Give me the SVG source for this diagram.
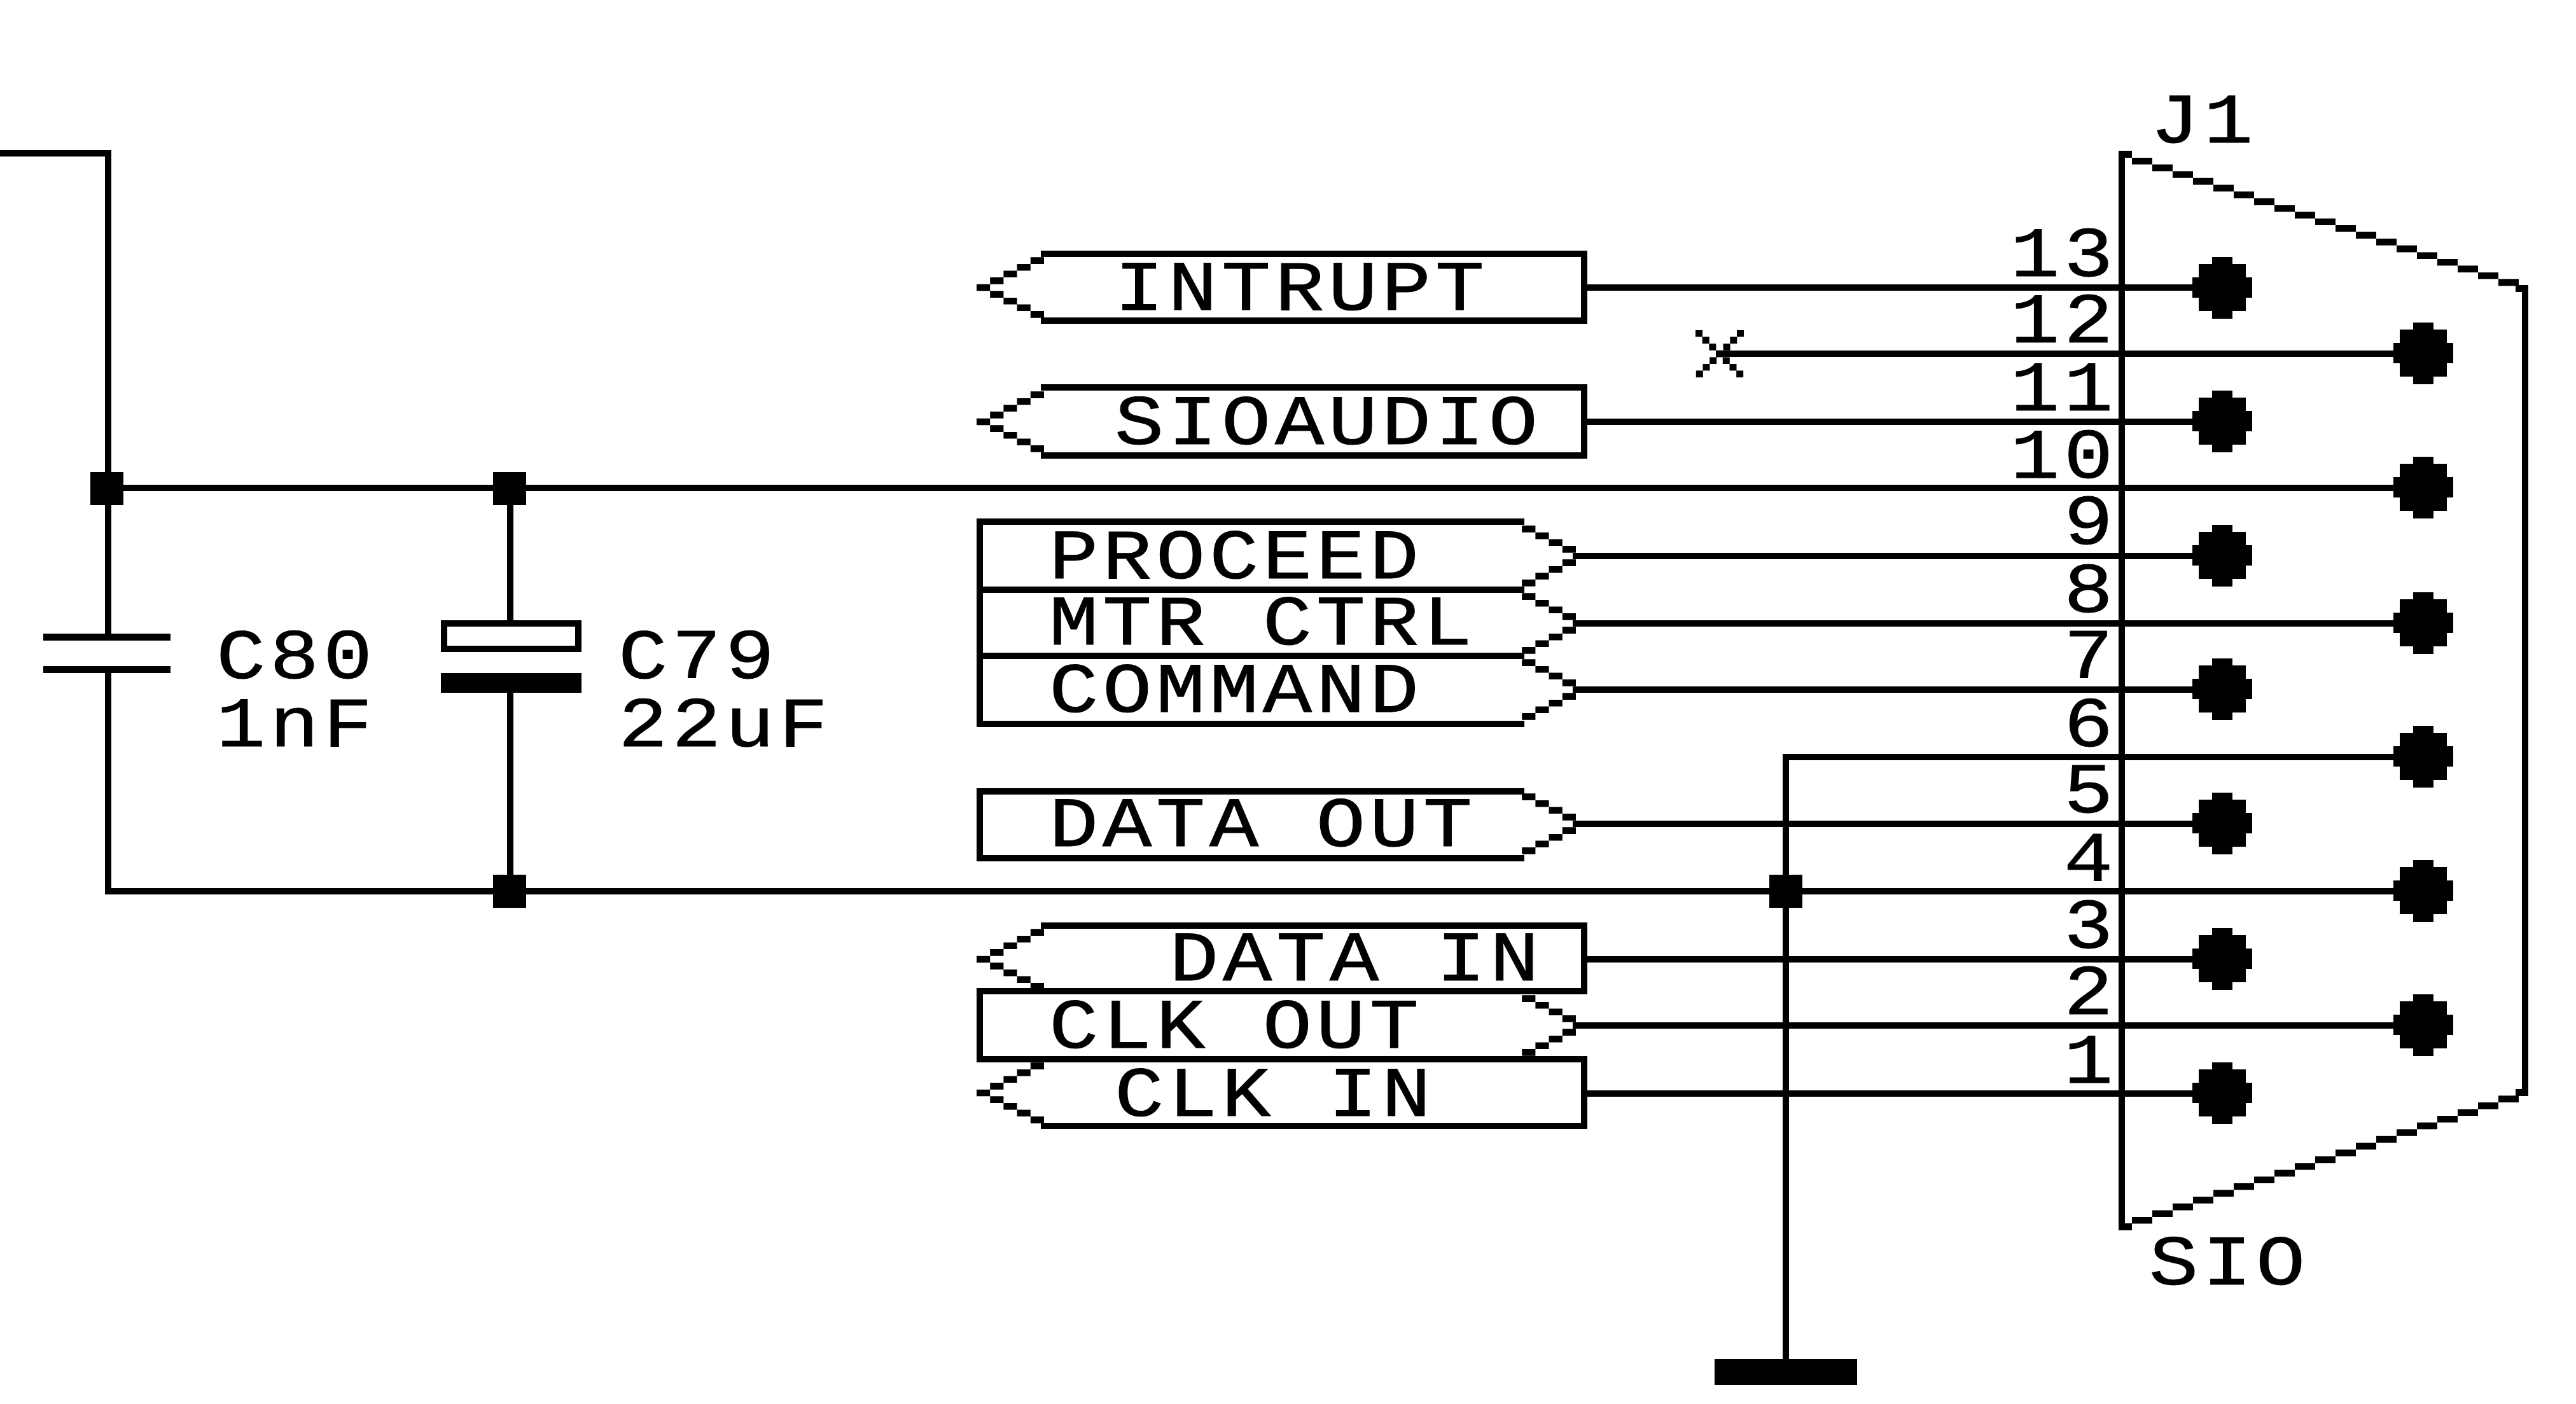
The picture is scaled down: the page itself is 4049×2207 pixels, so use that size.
<svg xmlns="http://www.w3.org/2000/svg" width="4049" height="2207" viewBox="0 0 4049 2207">
<style>
.w{fill:none;stroke:#000;stroke-width:10;stroke-linecap:square}
.f{fill:#000}
text{font-family:"Liberation Mono",monospace;font-size:112px;letter-spacing:5.8px;fill:#000;stroke:#000;stroke-width:1px}
</style>
<defs>
<path id="al" d="M0 -5.300h21.200v10.600h-21.200zM21.200 -15.900h21.200v10.600h-21.200zm21.200 -10.600h21.200v10.600h-21.200zm21.200 -10.600h21.200v10.600h-21.200zm21.200 -10.600h21.200v10.600h-21.200zM21.200 5.300h21.200v10.600h-21.200zm21.200 10.600h21.200v10.600h-21.200zm21.200 10.600h21.200v10.600h-21.200zm21.200 10.600h21.200v10.600h-21.200z"/>
<path id="ar" d="M-21.200 -15.900h21.200v10.600h-21.200zm-21.200 -10.600h21.200v10.600h-21.200zm-21.200 -10.600h21.200v10.600h-21.200zm-21.200 -10.600h21.200v10.600h-21.200zM-21.200 5.300h21.200v10.600h-21.200zm-21.200 10.600h21.200v10.600h-21.200zm-21.200 10.600h21.200v10.600h-21.200zm-21.200 10.600h21.200v10.600h-21.200z"/>
<path id="dot" d="M-16 -49H16V-38H37V-17H47V15H37V36H16V48H-16V36H-37V15H-47V-17H-37V-38H-16Z"/>
<rect id="jn" x="-26" y="-26" width="52" height="52"/>
</defs>

<g id="connectors">
<path class="w" d="M0 241H170V996M170 1058V1401H3809"/>
<path class="w" d="M170 767H3809"/>
<path class="w" d="M802 767V975M802 1089V1401"/>
<path class="w" d="M2807 2136V1190H3809"/>
<path class="w" d="M2490 452H3493"/>
<path class="w" d="M2703 556H3809"/>
<path class="w" d="M2490 663H3493"/>
<path class="w" d="M2477 874H3493"/>
<path class="w" d="M2477 980H3809"/>
<path class="w" d="M2477 1084H3493"/>
<path class="w" d="M2477 1295H3493"/>
<path class="w" d="M2490 1508H3493"/>
<path class="w" d="M2477 1612H3809"/>
<path class="w" d="M2490 1719H3493"/>
<use href="#jn" class="f" x="168" y="768"/>
<use href="#jn" class="f" x="801" y="768"/>
<use href="#jn" class="f" x="801" y="1401"/>
<use href="#jn" class="f" x="2807" y="1401"/>
</g>

<g id="C80">
<rect class="f" x="68" y="996" width="200" height="11"/>
<rect class="f" x="68" y="1047" width="200" height="11"/>
<text transform="translate(340 1066) scale(1.15 1)">C80</text>
<text transform="translate(340 1173) scale(1.15 1)">1nF</text>
</g>

<g id="C79">
<rect x="698" y="980" width="211" height="40" fill="#fff" stroke="#000" stroke-width="10"/>
<rect class="f" x="693" y="1058" width="221" height="31"/>
<text transform="translate(972 1066) scale(1.15 1)">C79</text>
<text transform="translate(972 1173) scale(1.15 1)">22uF</text>
</g>

<g id="label-intrupt">
<path class="w" d="M1641 399H2490V504H1641"/>
<use href="#al" class="f" x="1535" y="452"/>
<text transform="translate(1752 487) scale(1.15 1)">INTRUPT</text>
</g>
<g id="nc-mark">
<path class="f" d="M2665 519h11v10.600h-11zm10.700 10.600h11v10.600h-11zm10.700 10.600h11v10.600h-11zm10.700 10.600h11v10.600h-11zm10.700 10.600h11v10.600h-11zm10.700 10.600h11v10.600h-11zm10.700 10.600h11v10.600h-11zM2730 519h11v10.600h-11zm-10.700 10.600h11v10.600h-11zm-10.700 10.600h11v10.600h-11zm-21.400 21.200h11v10.600h-11zm-10.700 10.600h11v10.600h-11zm-10.700 10.600h11v10.600h-11z"/>
</g>
<g id="label-sioaudio">
<path class="w" d="M1641 609H2490V716H1641"/>
<use href="#al" class="f" x="1535" y="663"/>
<text transform="translate(1752 698) scale(1.15 1)">SIOAUDIO</text>
</g>
<g id="label-proceed">
<path class="w" d="M2391 820H1540V927H2391"/>
<use href="#ar" class="f" x="2477" y="874"/>
<text transform="translate(1649 909) scale(1.15 1)">PROCEED</text>
</g>
<g id="label-mtr-ctrl">
<path class="w" d="M1540 927V1031H2391"/>
<use href="#ar" class="f" x="2477" y="980"/>
<text transform="translate(1649 1013) scale(1.15 1)">MTR CTRL</text>
</g>
<g id="label-command">
<path class="w" d="M1540 1031V1138H2391"/>
<use href="#ar" class="f" x="2477" y="1084"/>
<text transform="translate(1649 1119) scale(1.15 1)">COMMAND</text>
</g>
<g id="label-data-out">
<path class="w" d="M2391 1244H1540V1349H2391"/>
<use href="#ar" class="f" x="2477" y="1295"/>
<text transform="translate(1649 1330) scale(1.15 1)">DATA OUT</text>
</g>
<g id="label-data-in">
<path class="w" d="M1641 1455H2490V1558H1641"/>
<use href="#al" class="f" x="1535" y="1508"/>
<text transform="translate(1838 1541) scale(1.15 1)">DATA IN</text>
</g>
<g id="label-clk-out">
<path class="w" d="M2490 1558H1540V1665H2490"/>
<use href="#ar" class="f" x="2477" y="1612"/>
<text transform="translate(1649 1647) scale(1.15 1)">CLK OUT</text>
</g>
<g id="label-clk-in">
<path class="w" d="M1641 1665H2490V1770H1641"/>
<use href="#al" class="f" x="1535" y="1718"/>
<text transform="translate(1752 1754) scale(1.15 1)">CLK IN</text>
</g>

<g id="J1">
<path class="f" d="M3330 237h21v11h-21zM3954 448h20v11h-20zM3330 1923h21v11h-21zM3954 1712h20v11h-20z"/>
<path class="f" d="M3351 248h32v10.600h-32zm32 10.600h32v10.600h-32zm32 10.600h32v10.600h-32zm32 10.600h32v10.600h-32zm32 10.600h32v10.600h-32zm32 10.600h32v10.600h-32zm32 10.600h32v10.600h-32zm32 10.600h32v10.600h-32zm32 10.600h32v10.600h-32zm32 10.600h32v10.600h-32zm32 10.600h32v10.600h-32zm32 10.600h32v10.600h-32zm32 10.600h32v10.600h-32zm32 10.600h32v10.600h-32zm32 10.600h32v10.600h-32zm32 10.600h32v10.600h-32zm32 10.600h32v10.600h-32zm32 10.600h32v10.600h-32zm32 10.600h32v10.600h-32z"/>
<path class="f" d="M3351 1913h32v10.600h-32zm32 -10.600h32v10.600h-32zm32 -10.600h32v10.600h-32zm32 -10.600h32v10.600h-32zm32 -10.600h32v10.600h-32zm32 -10.600h32v10.600h-32zm32 -10.600h32v10.600h-32zm32 -10.600h32v10.600h-32zm32 -10.600h32v10.600h-32zm32 -10.600h32v10.600h-32zm32 -10.600h32v10.600h-32zm32 -10.600h32v10.600h-32zm32 -10.600h32v10.600h-32zm32 -10.600h32v10.600h-32zm32 -10.600h32v10.600h-32zm32 -10.600h32v10.600h-32zm32 -10.600h32v10.600h-32zm32 -10.600h32v10.600h-32zm32 -10.600h32v10.600h-32z"/>
<path class="w" d="M3335 242V1929M3969 453V1718" stroke-linecap="butt"/>
<use href="#dot" class="f" x="3493" y="453"/>
<use href="#dot" class="f" x="3809" y="556"/>
<use href="#dot" class="f" x="3493" y="663"/>
<use href="#dot" class="f" x="3809" y="767"/>
<use href="#dot" class="f" x="3493" y="874"/>
<use href="#dot" class="f" x="3809" y="980"/>
<use href="#dot" class="f" x="3493" y="1084"/>
<use href="#dot" class="f" x="3809" y="1190"/>
<use href="#dot" class="f" x="3493" y="1295"/>
<use href="#dot" class="f" x="3809" y="1401"/>
<use href="#dot" class="f" x="3493" y="1508"/>
<use href="#dot" class="f" x="3809" y="1612"/>
<use href="#dot" class="f" x="3493" y="1719"/>
<text transform="translate(3380 224) scale(1.15 1)">J1</text>
<text transform="translate(3378 2019) scale(1.15 1)">SIO</text>
<text transform="translate(3160 434) scale(1.15 1)">13</text>
<text transform="translate(3160 538) scale(1.15 1)">12</text>
<text transform="translate(3160 645) scale(1.15 1)">11</text>
<text transform="translate(3160 751) scale(1.15 1)">10</text>
<text transform="translate(3244 855) scale(1.15 1)">9</text>
<text transform="translate(3244 962) scale(1.15 1)">8</text>
<text transform="translate(3244 1066) scale(1.15 1)">7</text>
<text transform="translate(3244 1173) scale(1.15 1)">6</text>
<text transform="translate(3244 1277) scale(1.15 1)">5</text>
<text transform="translate(3244 1384) scale(1.15 1)">4</text>
<text transform="translate(3244 1490) scale(1.15 1)">3</text>
<text transform="translate(3244 1594) scale(1.15 1)">2</text>
<text transform="translate(3244 1702) scale(1.15 1)">1</text>
</g>

<g id="GND">
<rect class="f" x="2695" y="2136" width="224" height="41"/>
</g>
</svg>
